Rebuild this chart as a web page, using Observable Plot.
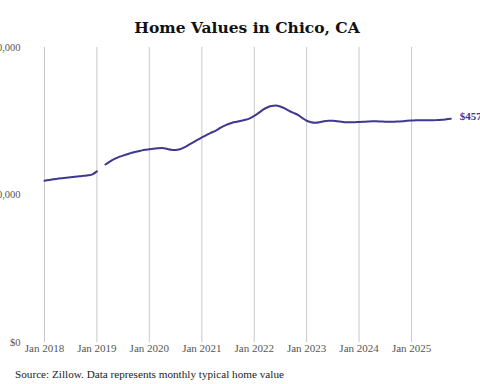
<!DOCTYPE html>
<html>
<head>
<meta charset="utf-8">
<script src="https://cdn.jsdelivr.net/npm/d3@7"></script>
<script src="https://cdn.jsdelivr.net/npm/@observablehq/plot@0.6"></script>
<style>
  html, body { margin: 0; padding: 0; background: #fff; width: 480px; height: 384px; overflow: hidden; position: relative; }
  #title { position: absolute; top: 19px; left: 247px; transform: translateX(-50%); white-space: nowrap;
           font-family: "DejaVu Serif", serif; font-weight: bold; font-size: 15.5px; line-height: 18px; color: #111; }
  #chart { position: absolute; top: 40px; left: 0; }
  #caption { position: absolute; top: 369px; left: 15px; white-space: nowrap;
             font-family: "Liberation Serif", serif; font-size: 11.2px; line-height: 11px; color: #222; }
</style>
</head>
<body>
<div id="title">Home Values in Chico, CA</div>
<div id="chart"></div>
<div id="caption">Source: Zillow. Data represents monthly typical home value</div>
<script>
// Monthly typical home value (thousands of $), Jan 2018 .. Oct 2025; null = missing month
const startMonth = "2018-01";
const values = [
  329, 330.5, 332, 333, 334, 335, 336, 337, 338, 339, 340, 342,        // 2018
  348, null, 362, 368, 373, 377, 380, 383, 386, 388, 390, 392,         // 2019
  393, 394, 395, 395.5, 394, 392, 391.5, 393, 397, 402, 407, 412,      // 2020
  417, 422, 426, 430, 435, 440, 444, 447, 449, 451, 453, 456,          // 2021
  461, 467, 473, 478, 481, 482, 480, 476, 471, 467, 463, 457,          // 2022
  451, 448, 447, 448, 450, 451, 451, 450, 449, 448, 448, 448,          // 2023
  448.5, 449, 449.5, 450, 450, 449.5, 449, 449, 449, 449.5, 450, 451,  // 2024
  451.5, 452, 452, 452, 452, 452, 452.5, 453, 454, 455                 // 2025
];
const endLabel = "$457,000";
const xTickYears = [2018, 2019, 2020, 2021, 2022, 2023, 2024, 2025];
const yTicks = [0, 300000, 600000];
const yTickLabels = ["$0", "$300,000", "$600,000"];

const start = new Date(startMonth + "-01T00:00:00Z");
const data = values.map((v, i) => ({
  date: new Date(Date.UTC(start.getUTCFullYear(), start.getUTCMonth() + i, 1)),
  value: v == null ? NaN : v * 1000
}));
const last = data[data.length - 1];
const xTicks = xTickYears.map(y => new Date(Date.UTC(y, 0, 1)));

const lineColor = "#3d3890";
const serif = "'Liberation Serif', serif";

const plot = Plot.plot({
  width: 480,
  height: 320,
  marginLeft: 22,
  marginRight: 0,
  marginTop: 7,
  marginBottom: 18,
  style: { fontFamily: serif, background: "transparent", overflow: "visible" },
  x: { type: "utc", domain: [data[0].date, last.date], range: [44, 450.3] },
  y: { domain: [0, 600000], range: [302, 7] },
  marks: [
    Plot.ruleX(xTicks, { x: d => d, y1: 0, y2: 600000, stroke: "#c8c8c8", strokeWidth: 1 }),
    Plot.axisX({ ticks: xTicks, tickSize: 0, tickPadding: 2, tickFormat: d3.utcFormat("Jan %Y"),
                 fontSize: 11, fill: "#555", label: null }),
    Plot.axisY({ ticks: yTicks, tickSize: 0, tickPadding: 2, tickFormat: (d) => yTickLabels[yTicks.indexOf(d)],
                 fontSize: 10.5, fill: "#555", label: null }),
    Plot.line(data, { x: "date", y: "value", stroke: lineColor, strokeWidth: 2, curve: "monotone-x" }),
    Plot.text([last], { x: "date", y: "value", text: () => endLabel, dx: 9, dy: -2, textAnchor: "start",
                        fill: lineColor, fontWeight: "bold", fontSize: 11 })
  ]
});
document.getElementById("chart").appendChild(plot);
</script>
</body>
</html>
